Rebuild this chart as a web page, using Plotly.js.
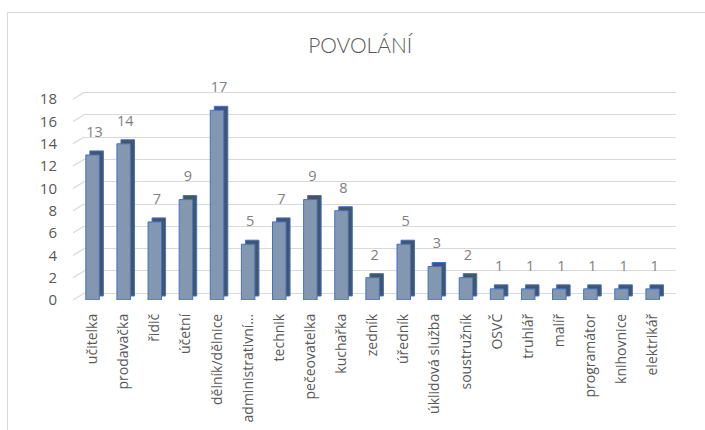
<!DOCTYPE html>
<html>
<head>
<meta charset="utf-8">
<script src="https://cdn.plot.ly/plotly-3.0.1.min.js"></script>
<style>
html,body{margin:0;padding:0;background:#fff;}
#wrap{position:relative;width:705px;height:430px;overflow:hidden;}
#chart{position:absolute;left:0;top:0;width:705px;height:430px;}
#frame{position:absolute;left:7px;top:12px;width:720px;height:440px;border:1px solid #d9d9d9;pointer-events:none;}
</style>
</head>
<body>
<div id="wrap"><div id="chart"></div><div id="frame"></div></div>
<script>
const categories = ["učitelka","prodavačka","řidič","účetní","dělník/dělnice","administrativní…","technik","pečeovatelka","kuchařka","zedník","úředník","úklidová služba","soustružník","OSVČ","truhlář","malíř","programátor","knihovnice","elektrikář"];
const values = [13,14,7,9,17,5,7,9,8,2,5,3,2,1,1,1,1,1,1];
const yTicks = [0,2,4,6,8,10,12,14,16,18];

const FONT = '"Open Sans", sans-serif';
const GRID = '#d9d9d9';

const gridTrace = {
  type: 'scatter', x: [0], y: [0], xaxis: 'x', yaxis: 'y', mode: 'markers',
  marker: {opacity: 0}, hoverinfo: 'skip', showlegend: false
};
const depthBar = {
  type: 'bar', x: categories, y: values, base: 0.36, xaxis: 'x2', yaxis: 'y2',
  width: 0.434, offset: -0.217 + 0.13,
  marker: {color: '#44546A', line: {color: '#4472C4', width: 1}},
  hoverinfo: 'skip', showlegend: false
};
const frontBar = {
  type: 'bar', x: categories, y: values, base: 0, xaxis: 'x2', yaxis: 'y2',
  width: 0.434, offset: -0.217,
  marker: {color: '#8497B0', line: {color: '#4472C4', width: 1}},
  hoverinfo: 'skip', showlegend: false
};
const labelBar = {
  type: 'bar', x: categories, y: values, base: 1.0, xaxis: 'x2', yaxis: 'y2',
  width: 0.434, offset: -0.217 + 0.065,
  marker: {color: 'rgba(0,0,0,0)'},
  text: values.map(String), textposition: 'outside', cliponaxis: false, constraintext: 'none',
  textfont: {family: FONT, size: 14.5, color: '#808080'},
  outsidetextfont: {family: FONT, size: 14.5, color: '#808080'},
  hoverinfo: 'skip', showlegend: false
};

// side-wall gridline stubs as one SVG path in paper coordinates
const stubPath = yTicks.map(v => 'M' + (-4/599) + ',' + (v/19) + ' L' + (7/599) + ',' + ((v + 0.6)/19)).join(' ');
const sideStubs = [{
  type: 'path', xref: 'paper', yref: 'paper', path: stubPath,
  line: {color: GRID, width: 1.2}, layer: 'above'
}];

const layout = {
  width: 705, height: 430,
  margin: {l: 77, r: 29, t: 88, b: 130},
  paper_bgcolor: '#ffffff', plot_bgcolor: 'rgba(0,0,0,0)',
  font: {family: FONT, color: '#595959'},
  title: {text: 'POVOLÁNÍ', x: 0.511, xanchor: 'center', y: 0.895, yanchor: 'middle',
          font: {family: 'Lato, sans-serif', size: 21, color: '#595959', weight: 300}},
  barmode: 'overlay',
  shapes: sideStubs,
  xaxis: {domain: [7/599, 1], range: [0, 1], showticklabels: false, showgrid: false,
          zeroline: false, showline: false, ticks: ''},
  yaxis: {range: [-0.6, 18.4], tickvals: yTicks, showticklabels: false,
          showgrid: true, gridcolor: GRID, gridwidth: 1, zeroline: false, showline: false, ticks: ''},
  xaxis2: {anchor: 'y2', domain: [0, 1], range: [-0.5, 18.75], tickangle: -90,
           tickfont: {family: FONT, size: 14, color: '#595959'},
           showgrid: false, zeroline: false, showline: false, ticks: '', ticklabelstandoff: 10},
  yaxis2: {anchor: 'x2', domain: [0, 1], range: [0, 19], tickvals: yTicks,
           tickfont: {family: FONT, size: 15, color: '#595959'},
           showgrid: false, zeroline: false, showline: false, ticks: '', ticklabelstandoff: 19}
};

Plotly.newPlot('chart', [gridTrace, depthBar, frontBar, labelBar], layout, {staticPlot: true, displayModeBar: false});
</script>
</body>
</html>
